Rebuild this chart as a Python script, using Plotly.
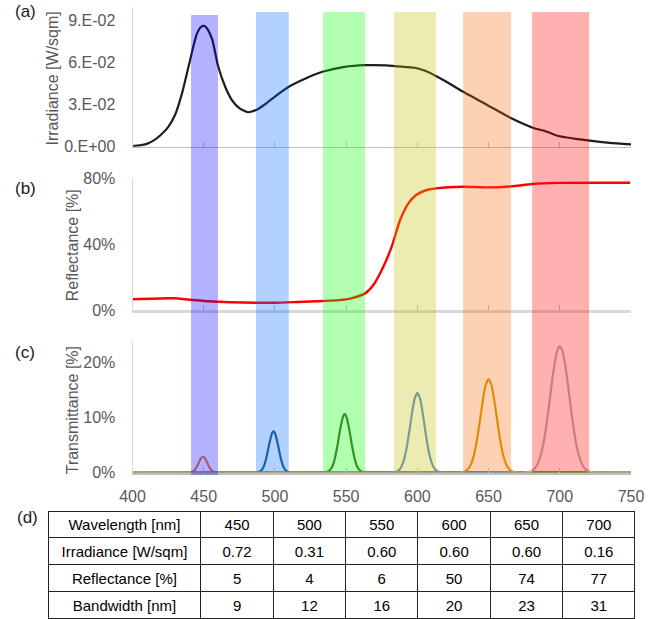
import plotly.graph_objects as go

# ---------------- data ----------------
irr_wl = [400, 405, 410, 415, 420, 425, 430, 435, 440, 445, 448, 450.5, 453, 456, 460,
          465, 470, 475, 481, 488, 494, 500, 510, 520, 527, 534, 549, 563, 578, 586,
          599, 606, 613, 621, 630, 649, 666, 681, 691, 699, 710, 721, 735, 750]
irr_val = [0.0005, 0.0010, 0.0020, 0.0045, 0.0085, 0.0140, 0.0230, 0.0390, 0.0600, 0.0800,
           0.0855, 0.0862, 0.0835, 0.0765, 0.0580, 0.0430, 0.0330, 0.0275, 0.0246, 0.0268,
           0.0310, 0.0358, 0.0430, 0.0480, 0.0512, 0.0537, 0.0570, 0.0582, 0.0581, 0.0574,
           0.0562, 0.0540, 0.0505, 0.0460, 0.0405, 0.0298, 0.0203, 0.0136, 0.0107, 0.0076,
           0.0058, 0.0043, 0.0028, 0.0017]

refl_wl = [400, 428.7, 441.6, 450.2, 469.0, 499.4, 516.0, 533.8, 545.0, 553.6, 563.3, 569.1,
           576.1, 582.0, 587.9, 593.7, 599.1, 606.6, 613.1, 632.1, 649.0, 665.8, 680.6, 699.0, 749.4]
refl_val = [0.065, 0.071, 0.061, 0.055, 0.047, 0.044, 0.049, 0.055, 0.060, 0.071, 0.101, 0.152,
            0.263, 0.385, 0.547, 0.648, 0.699, 0.729, 0.739, 0.749, 0.745, 0.751, 0.765, 0.772, 0.773]

t450_wl = [400, 440, 442, 444, 446, 448, 450, 452, 454, 456, 458, 461, 750]
t450_val = [0, 0.02, 0.13, 0.54, 1.47, 2.56, 2.86, 2.05, 0.94, 0.28, 0.05, 0, 0]
t500_wl = [400, 486, 488, 490, 492, 494, 496, 498, 499, 500, 502, 504, 506, 508, 510, 512, 750]
t500_val = [0, 0, 0.05, 0.28, 1.01, 2.70, 5.2, 7.2, 7.5, 7.2, 5.2, 2.70, 1.01, 0.28, 0.05, 0, 0]
t550_wl = [400, 534, 536, 538, 540, 542, 544, 546, 548, 549, 550, 552, 554, 556, 558, 560, 562, 564, 750]
t550_val = [0, 0, 0.07, 0.29, 0.95, 2.47, 5.04, 8.11, 10.29, 10.6, 10.29, 8.11, 5.04, 2.47, 0.95, 0.29, 0.07, 0, 0]
t600_wl = [400, 582, 584, 586, 588, 590, 592, 594, 596, 598, 600, 602, 604, 606, 608, 610, 612, 614, 616, 618, 750]
t600_val = [0, 0, 0.07, 0.25, 0.72, 1.81, 3.82, 6.85, 10.39, 13.34, 14.5, 13.34, 10.39, 6.85, 3.82, 1.81, 0.72, 0.25, 0.07, 0, 0]
t650_wl = [400, 630, 632, 634, 636, 638, 640, 642, 644, 646, 648, 650, 652, 654, 656, 658, 660, 662, 664, 666, 668, 670, 750]
t650_val = [0, 0, 0.10, 0.29, 0.75, 1.71, 3.45, 6.13, 9.58, 13.17, 15.95, 17.0, 15.95, 13.17, 9.58, 6.13, 3.45, 1.71, 0.75, 0.29, 0.10, 0, 0]
t700_wl = [400, 676, 678, 680, 682, 684, 686, 688, 690, 692, 694, 696, 698, 700, 702, 704, 706, 708, 710, 712, 714, 716, 718, 720, 722, 724, 750]
t700_val = [0, 0, 0.10, 0.27, 0.62, 1.33, 2.59, 4.63, 7.55, 11.27, 15.40, 19.24, 21.99, 23.0, 21.99, 19.24, 15.40, 11.27, 7.55, 4.63, 2.59, 1.33, 0.62, 0.27, 0.10, 0, 0]

trans_series = [(t450_wl, t450_val), (t500_wl, t500_val), (t550_wl, t550_val),
                (t600_wl, t600_val), (t650_wl, t650_val), (t700_wl, t700_val)]
trans_colors = ["#ed7d31", "#255e91", "#43682b", "#5f8cd2", "#d79b00", "#b4b4b4"]

band_ranges = [(441.1, 460.0), (486.7, 509.7), (533.8, 563.3), (583.6, 613.1), (632.1, 665.8), (680.6, 720.6)]
band_colors = ["rgba(0,0,255,0.3)", "rgba(0,102,255,0.3)", "rgba(0,255,0,0.3)",
               "rgba(192,192,0,0.3)", "rgba(248,105,5,0.3)", "rgba(255,0,0,0.31)"]

x_ticks = [400, 450, 500, 550, 600, 650, 700, 750]
irr_ticks = [0, 0.03, 0.06, 0.09]
irr_ticktext = ["0.E+00", "3.E-02", "6.E-02", "9.E-02"]
refl_ticks = [0, 0.4, 0.8]
trans_ticks = [0, 0.1, 0.2]

table_rows = ["Wavelength [nm]", "Irradiance [W/sqm]", "Reflectance [%]", "Bandwidth [nm]"]
table_wl = ["450", "500", "550", "600", "650", "700"]
table_irr = ["0.72", "0.31", "0.60", "0.60", "0.60", "0.16"]
table_refl = ["5", "4", "6", "50", "74", "77"]
table_bw = ["9", "12", "16", "20", "23", "31"]

# ---------------- figure ----------------
W, H = 662, 619
FONT = "Liberation Sans, Arial, sans-serif"
GRAY = "#595959"

def px(x):
    return x / W

def py(y):
    return 1 - y / H

fig = go.Figure()

fig.add_trace(go.Scatter(x=irr_wl, y=irr_val, mode="lines", line=dict(color="#1e1e1e", width=2.2, shape="spline", smoothing=0.6),
                         xaxis="x", yaxis="y", showlegend=False, hoverinfo="skip"))
fig.add_trace(go.Scatter(x=refl_wl, y=refl_val, mode="lines", line=dict(color="#ff0000", width=2.4, shape="spline", smoothing=0.6),
                         xaxis="x2", yaxis="y2", showlegend=False, hoverinfo="skip"))
for (wl, val), col in zip(trans_series, trans_colors):
    fig.add_trace(go.Scatter(x=wl, y=[v / 100 for v in val], mode="lines",
                             line=dict(color=col, width=2.2, shape="spline", smoothing=0.5),
                             xaxis="x3", yaxis="y3", showlegend=False, hoverinfo="skip"))

xdom = [px(132.5), px(631)]
common_x = dict(domain=xdom, range=[400, 750], tickvals=x_ticks, ticks="inside", ticklen=5,
                tickcolor="#bfbfbf", showgrid=False, zeroline=False, showline=True, automargin=False)
common_y = dict(showgrid=False, zeroline=False, showline=True, linecolor="#d9d9d9", linewidth=1,
                ticks="", tickfont=dict(family=FONT, size=16, color=GRAY), ticklabelstandoff=13,
                automargin=False)

fig.update_layout(
    width=W, height=H, margin=dict(l=0, r=0, t=0, b=0, autoexpand=False),
    paper_bgcolor="white", plot_bgcolor="white",
    xaxis=dict(**common_x, anchor="y", showticklabels=False, linecolor="#bfbfbf", linewidth=1),
    yaxis=dict(**common_y, domain=[py(146.7), py(6.7)], range=[0, 0.1], tickvals=irr_ticks,
               ticktext=irr_ticktext, anchor="x"),
    xaxis2=dict(**common_x, anchor="y2", showticklabels=False, linecolor="#d9d9d9", linewidth=3),
    yaxis2=dict(**common_y, domain=[py(310), py(178.3)], range=[0, 0.8], tickvals=refl_ticks,
                tickformat=".0%", anchor="x2"),
    xaxis3=dict(**common_x, anchor="y3", showticklabels=True, linecolor="#bfbfbf", linewidth=2,
                tickfont=dict(family=FONT, size=16, color=GRAY), ticklabelstandoff=8),
    yaxis3=dict(**common_y, domain=[py(472.5), py(340.5)], range=[0, 0.24], tickvals=trans_ticks,
                tickformat=".0%", anchor="x3"),
)

shapes = []
for i, ((a, b), col) in enumerate(zip(band_ranges, band_colors)):
    top = 15 if i == 0 else 12
    bot = 475 if i == 0 else 472
    shapes.append(dict(type="rect", xref="x", yref="paper", x0=a, x1=b, y0=py(bot), y1=py(top),
                       fillcolor=col, line=dict(width=0), layer="above"))
fig.update_layout(shapes=shapes)

ann = []
for text, x, y in [("(a)", 13, 12), ("(b)", 13, 188), ("(c)", 13, 352), ("(d)", 15, 517)]:
    ann.append(dict(text=text, x=px(x), y=py(y), xref="paper", yref="paper", xanchor="left",
                    yanchor="middle", showarrow=False, font=dict(family=FONT, size=17, color="#1a1a1a")))
for text, x, y in [("Irradiance [W/sqm]", 52, 78.5), ("Reflectance [%]", 72.3, 245), ("Transmittance [%]", 72.3, 410)]:
    ann.append(dict(text=text, x=px(x), y=py(y), xref="paper", yref="paper", xanchor="center",
                    yanchor="middle", textangle=-90, showarrow=False,
                    font=dict(family=FONT, size=16, color=GRAY)))
fig.update_layout(annotations=ann)

header_vals = [table_rows[0]] + table_wl
cell_cols = [table_rows[1:]] + [[table_irr[i], table_refl[i], table_bw[i]] for i in range(len(table_wl))]
fig.add_trace(go.Table(
    domain=dict(x=[px(48), px(635.5)], y=[0, py(511)]),
    columnwidth=[153] + [72.4] * 6,
    header=dict(values=header_vals, height=26.75, align="center", fill_color="white",
                line=dict(color="#222222", width=1), font=dict(family=FONT, size=15, color="black")),
    cells=dict(values=cell_cols, height=26.75, align="center", fill_color="white",
               line=dict(color="#222222", width=1), font=dict(family=FONT, size=15, color="black")),
))

fig.write_html("out.html")
